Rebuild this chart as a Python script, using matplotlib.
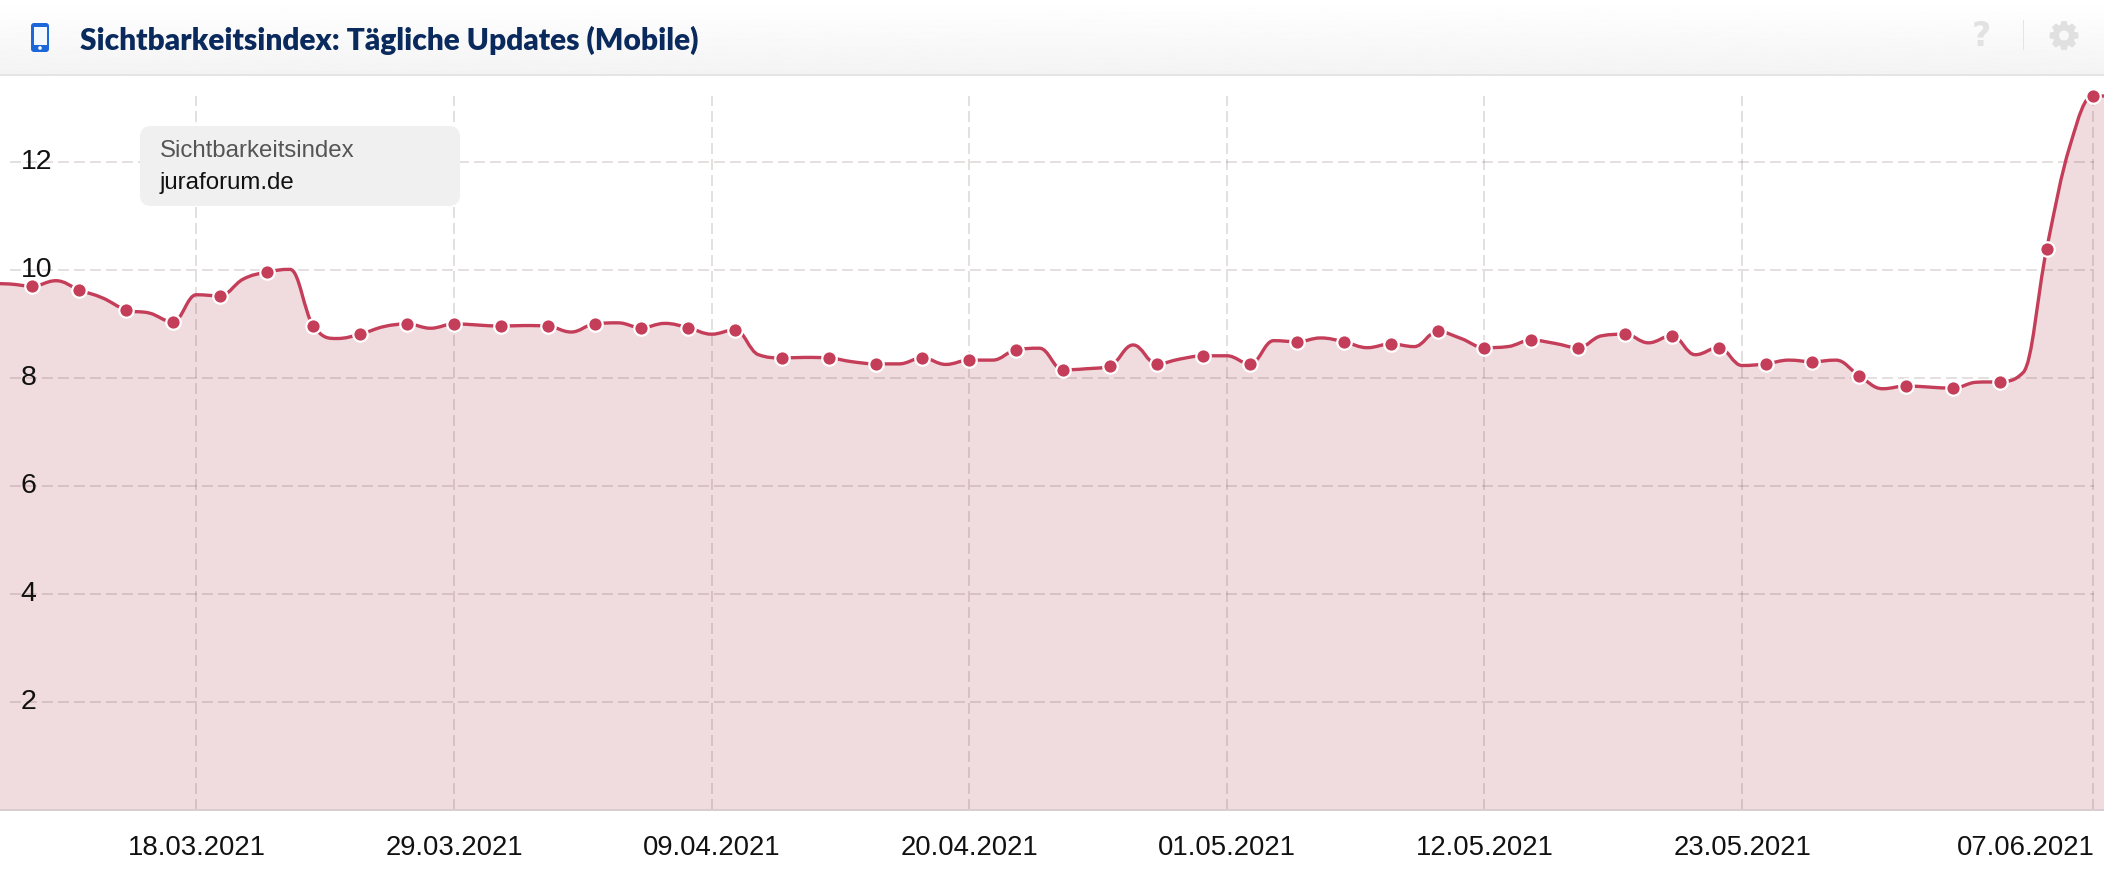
import numpy as np
import pandas as pd
import matplotlib
matplotlib.use("Agg")
import matplotlib.pyplot as plt
import matplotlib.dates as mdates
from matplotlib.path import Path
from matplotlib.patches import PathPatch, FancyBboxPatch, Rectangle, Circle, Polygon
from matplotlib.transforms import ScaledTranslation

W, H = 2104, 876
TITLE = "Sichtbarkeitsindex: Tägliche Updates (Mobile)"
LEGEND_TITLE = "Sichtbarkeitsindex"
LEGEND_NAME = "juraforum.de"

first_day = "2021-03-09"
index_values = [
    9.75, 9.74, 9.70, 9.80, 9.63, 9.48, 9.26, 9.20, 9.04, 9.54, 9.52, 9.83, 9.96, 10.01, 8.96, 8.73,
    8.81, 8.95, 9.00, 8.92, 9.00, 8.98, 8.96, 8.97, 8.96, 8.85, 9.00, 9.02, 8.93, 9.01, 8.93, 8.81,
    8.89, 8.43, 8.37, 8.38, 8.37, 8.30, 8.26, 8.26, 8.37, 8.25, 8.33, 8.33, 8.52, 8.55, 8.15, 8.17,
    8.22, 8.61, 8.26, 8.35, 8.41, 8.41, 8.26, 8.69, 8.67, 8.74, 8.67, 8.56, 8.63, 8.58, 8.86, 8.73,
    8.56, 8.58, 8.70, 8.64, 8.56, 8.78, 8.81, 8.65, 8.78, 8.43, 8.56, 8.23, 8.26, 8.33, 8.30, 8.33,
    8.04, 7.80, 7.85, 7.83, 7.81, 7.92, 7.93, 8.10, 10.38, 12.30, 13.22, 13.22,
]
x_tick_dates = ["2021-03-18", "2021-03-29", "2021-04-09", "2021-04-20",
                "2021-05-01", "2021-05-12", "2021-05-23", "2021-06-07"]
x_tick_labels = ["18.03.2021", "29.03.2021", "09.04.2021", "20.04.2021",
                 "01.05.2021", "12.05.2021", "23.05.2021", "07.06.2021"]
y_ticks = [2, 4, 6, 8, 10, 12]

RED = "#c43d59"
plt.rcParams["font.family"] = ["Liberation Sans", "DejaVu Sans"]

dates = pd.date_range(first_day, periods=len(index_values), freq="D")
xs = mdates.date2num(dates)
ys = np.array(index_values)


def spline_path(x, y, smoothing=1.5):
    """Same construction as a Highcharts spline: flat tangents at local extremes."""
    denom = smoothing + 1
    verts = [(x[0], y[0])]
    codes = [Path.MOVETO]
    n = len(x)
    left, right = [None] * n, [None] * n
    for i in range(n):
        if i == 0 or i == n - 1:
            left[i] = right[i] = (x[i], y[i])
            continue
        lx = (smoothing * x[i] + x[i - 1]) / denom
        ly = (smoothing * y[i] + y[i - 1]) / denom
        rx = (smoothing * x[i] + x[i + 1]) / denom
        ry = (smoothing * y[i] + y[i + 1]) / denom
        corr = (ry - ly) * (rx - x[i]) / (rx - lx) + y[i] - ry
        ly += corr
        ry += corr
        if ly > max(y[i - 1], y[i]):
            ly = max(y[i - 1], y[i])
            ry = 2 * y[i] - ly
        elif ly < min(y[i - 1], y[i]):
            ly = min(y[i - 1], y[i])
            ry = 2 * y[i] - ly
        if ry > max(y[i], y[i + 1]):
            ry = max(y[i], y[i + 1])
            ly = 2 * y[i] - ry
        elif ry < min(y[i], y[i + 1]):
            ry = min(y[i], y[i + 1])
            ly = 2 * y[i] - ry
        left[i] = (lx, ly)
        right[i] = (rx, ry)
    for i in range(1, n):
        verts += [right[i - 1], left[i], (x[i], y[i])]
        codes += [Path.CURVE4] * 3
    return verts, codes


fig = plt.figure(figsize=(W / 100, H / 100), dpi=100, facecolor="white")

# plot area: y 96..810 px
ax = fig.add_axes([0, 1 - 810 / H, 1, (810 - 96) / H])
ref = mdates.date2num(pd.Timestamp("2021-03-29"))
ax.set_xlim(ref - 454 / 23.42, ref + (W - 454) / 23.42)
ax.set_ylim(0, max(index_values))

verts, codes = spline_path(xs, ys)
ax.add_patch(PathPatch(Path(verts + [(xs[-1], 0), (xs[0], 0), (xs[0], 0)],
                            codes + [Path.LINETO, Path.LINETO, Path.CLOSEPOLY]),
                       facecolor="#f0dbde", edgecolor="none", zorder=1))
ax.add_patch(PathPatch(Path(verts, codes), facecolor="none", edgecolor=RED, lw=2.4, zorder=2,
                       clip_on=False, capstyle="round"))
ax.plot(xs[2:-1:2], ys[2:-1:2], ls="none", marker="o", ms=10.4, mfc=RED, mec="white", mew=1.6,
        zorder=2.2, clip_on=False)

grid_color = (0.25, 0.15, 0.15, 0.14)
dash = dict(color=grid_color, lw=1.44, dashes=(5.5, 2.5), dash_capstyle="butt")
for v in y_ticks:
    ax.plot([10 / W, 2094 / W], [v, v], transform=ax.get_yaxis_transform(), zorder=1.5, **dash)
for d in mdates.date2num(pd.to_datetime(x_tick_dates)):
    ax.plot([d, d], [0, 1], transform=ax.get_xaxis_transform(), zorder=1.5, **dash)

ax.set_xticks(mdates.date2num(pd.to_datetime(x_tick_dates)), x_tick_labels)
ax.set_yticks(y_ticks, [str(v) for v in y_ticks])
ax.tick_params(axis="x", length=0, labelsize=19.8, pad=18, labelcolor="#111111")
ax.tick_params(axis="y", length=0, labelsize=20.5, pad=-15, labelcolor="#111111")
for lab in ax.get_yticklabels():
    lab.set_ha("left")
    lab.set_transform(lab.get_transform() + ScaledTranslation(0, 3 / 100, fig.dpi_scale_trans))
last = ax.get_xticklabels()[-1]
last.set_ha("right")
last.set_transform(last.get_transform() + ScaledTranslation(1 / 100, 0, fig.dpi_scale_trans))
for s in ("top", "left", "right"):
    ax.spines[s].set_visible(False)
ax.spines["bottom"].set_color("#d8ced0")
ax.spines["bottom"].set_linewidth(1.44)
ax.patch.set_alpha(0)

# page furniture in pixel coordinates
ov = fig.add_axes([0, 0, 1, 1], zorder=5)
ov.set_xlim(0, W)
ov.set_ylim(H, 0)
ov.axis("off")
grad = np.linspace(1.0, 0.955, 64)[:, None]
ov.imshow(grad, extent=(0, W, 74, 0), cmap="gray", vmin=0, vmax=1, aspect="auto", zorder=0)
ov.set_xlim(0, W)
ov.set_ylim(H, 0)
ov.add_patch(Rectangle((0, 74), W, 2, fc="#e4e4e4", ec="none", zorder=1))

ov.add_patch(FancyBboxPatch((31, 23), 18, 29, boxstyle="round,pad=0,rounding_size=3",
                            fc="#1d68d8", ec="none", zorder=2))
ov.add_patch(Rectangle((33.5, 27), 13, 17.5, fc="#f4f8ff", ec="none", zorder=3))
ov.add_patch(Circle((40, 48), 1.8, fc="white", ec="none", zorder=3))
ov.text(80, 40, TITLE, family=["Lato", "DejaVu Sans"], fontweight="heavy", fontsize=21.5,
        color="#0a2a5e", va="center", ha="left", zorder=3)
ov.text(1981, 36, "?", family=["DejaVu Sans"], fontweight="bold", fontsize=24, color="#e2e2e2",
        ha="center", va="center", zorder=3)
ov.add_patch(Rectangle((2022.5, 20), 1.5, 30, fc="#e4e4e4", ec="none", zorder=3))

# gear icon
gear_cx, gear_cy = 2064, 35.5
angles, radii = [], []
for k in range(8):
    a = k * np.pi / 4
    angles += [a - 0.30, a - 0.17, a + 0.17, a + 0.30]
    radii += [10.5, 14, 14, 10.5]
ov.add_patch(Polygon(np.column_stack([gear_cx + np.array(radii) * np.cos(angles),
                                      gear_cy + np.array(radii) * np.sin(angles)]),
                     closed=True, fc="#e0e0e0", ec="#e0e0e0", lw=0.8, joinstyle="round", zorder=3))
ov.add_patch(Circle((gear_cx, gear_cy), 5, fc="#f8f8f8", ec="none", zorder=4))

ov.add_patch(FancyBboxPatch((140, 126), 320, 80, boxstyle="round,pad=0,rounding_size=11",
                            fc="#f0f0f0", ec="none", zorder=2))
ov.text(160, 151, LEGEND_TITLE, fontsize=17.3, color="#555555", va="center", ha="left", zorder=3)
ov.text(160, 183.5, LEGEND_NAME, fontsize=17.3, color="#111111", va="center", ha="left", zorder=3)

fig.savefig("out.png", dpi=100)
